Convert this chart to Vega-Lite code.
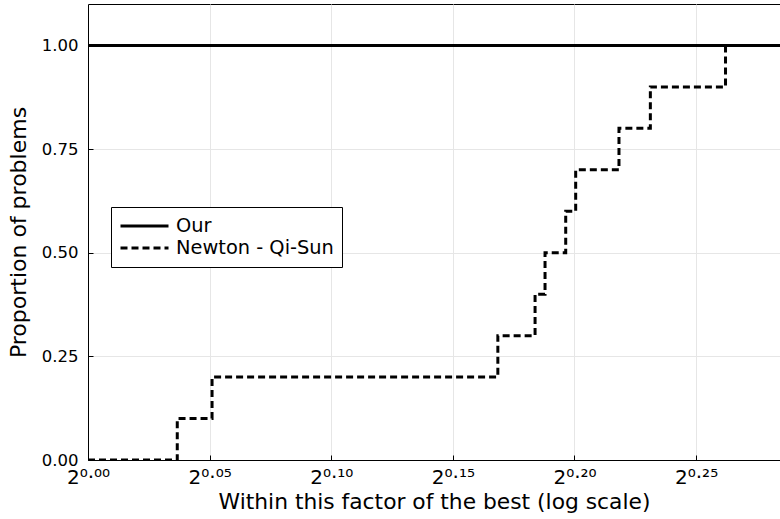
{
  "$schema": "https://vega.github.io/schema/vega-lite/v6.json",
  "width": 692,
  "height": 456,
  "autosize": {"type": "none"},
  "padding": {"left": 88, "top": 4, "right": 0, "bottom": 59},
  "background": "white",
  "config": {
    "font": "DejaVu Sans",
    "view": {"stroke": "black", "strokeWidth": 1},
    "axis": {
      "domainColor": "black",
      "domainWidth": 1,
      "gridColor": "#e6e6e6",
      "gridWidth": 1,
      "tickColor": "black",
      "tickSize": -5,
      "labelColor": "black",
      "titleColor": "black",
      "titleFontWeight": "normal",
      "labelFont": "DejaVu Sans",
      "titleFont": "DejaVu Sans"
    }
  },
  "data": {
    "values": [
      {"series": "Our", "ratio": 1.0, "proportion": 1.0},
      {"series": "Our", "ratio": 1.217988, "proportion": 1.0},
      {"series": "Newton - Qi-Sun", "ratio": 1.0, "proportion": 0.0},
      {"series": "Newton - Qi-Sun", "ratio": 1.025764, "proportion": 0.1},
      {"series": "Newton - Qi-Sun", "ratio": 1.035982, "proportion": 0.2},
      {"series": "Newton - Qi-Sun", "ratio": 1.123889, "proportion": 0.3},
      {"series": "Newton - Qi-Sun", "ratio": 1.135873, "proportion": 0.4},
      {"series": "Newton - Qi-Sun", "ratio": 1.139104, "proportion": 0.5},
      {"series": "Newton - Qi-Sun", "ratio": 1.145836, "proportion": 0.6},
      {"series": "Newton - Qi-Sun", "ratio": 1.149097, "proportion": 0.7},
      {"series": "Newton - Qi-Sun", "ratio": 1.163362, "proportion": 0.8},
      {"series": "Newton - Qi-Sun", "ratio": 1.17381, "proportion": 0.9},
      {"series": "Newton - Qi-Sun", "ratio": 1.199224, "proportion": 1.0},
      {"series": "Newton - Qi-Sun", "ratio": 1.217988, "proportion": 1.0}
    ]
  },
  "mark": {"type": "line", "interpolate": "step-after", "strokeWidth": 3, "color": "black", "clip": true, "strokeCap": "butt"},
  "encoding": {
    "x": {
      "field": "ratio",
      "type": "quantitative",
      "scale": {"type": "log", "base": 2, "domain": [1, 1.217988], "nice": false},
      "axis": {
        "title": "Within this factor of the best (log scale)",
        "titleFontSize": 21.8,
        "titlePadding": 4,
        "values": [1, 1.035265, 1.071773, 1.109569, 1.148698, 1.189207],
        "labelExpr": "'2' + replace(replace(replace(replace(replace(format(log(datum.value)/log(2), '.2f'), regexp('0','g'), '⁰'), regexp('1','g'), '¹'), regexp('2','g'), '²'), regexp('5','g'), '⁵'), regexp('[.]','g'), '·')",
        "labelFontSize": 20,
        "labelPadding": 12,
        "labelFlush": false,
        "grid": true
      }
    },
    "y": {
      "field": "proportion",
      "type": "quantitative",
      "scale": {"domain": [0, 1.1], "nice": false},
      "axis": {
        "title": "Proportion of problems",
        "titleFontSize": 22,
        "titlePadding": 11,
        "values": [0, 0.25, 0.5, 0.75, 1.0],
        "format": ".2f",
        "labelFontSize": 16.5,
        "labelPadding": 15,
        "grid": true
      }
    },
    "strokeDash": {
      "field": "series",
      "type": "nominal",
      "sort": ["Our", "Newton - Qi-Sun"],
      "scale": {"domain": ["Our", "Newton - Qi-Sun"], "range": [[1, 0], [7, 4]]},
      "legend": {
        "title": null,
        "orient": "none",
        "legendX": 23,
        "legendY": 203,
        "symbolType": "stroke",
        "symbolSize": 2304,
        "symbolStrokeWidth": 3,
        "symbolStrokeColor": "black",
        "labelFontSize": 19.4,
        "labelColor": "black",
        "labelOffset": 6,
        "clipHeight": 22,
        "rowPadding": 0,
        "padding": 8,
        "strokeColor": "black",
        "fillColor": "white",
        "cornerRadius": 0
      }
    }
  }
}
